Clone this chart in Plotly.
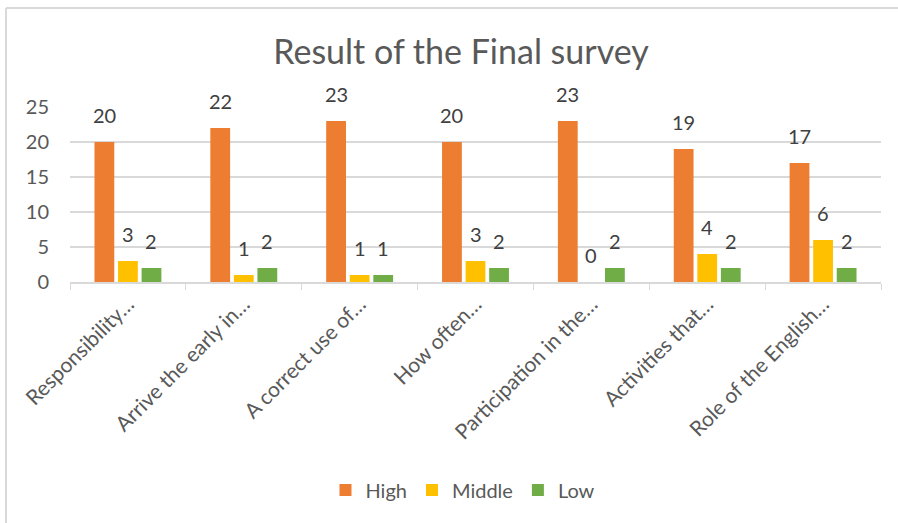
import plotly.graph_objects as go

categories = ["Responsibility…", "Arrive the early in…", "A correct use of…", "How often…",
              "Participation in the…", "Activities that…", "Role of the English…"]
high = [20, 22, 23, 20, 23, 19, 17]
middle = [3, 1, 1, 3, 0, 4, 6]
low = [2, 2, 1, 2, 2, 2, 2]

series = [("High", high, "#ED7D31"), ("Middle", middle, "#FFC000"), ("Low", low, "#70AD47")]

FONT = "Lato"
W, H = 898, 523
L, R, T, B = 70, 881, 107, 282
BARGAP, GROUPGAP = 0.39, 0.16

fig = go.Figure()
for name, vals, col in series:
    fig.add_trace(go.Bar(
        x=categories, y=vals, name=name, marker_color=col, marker_line_width=0,
    ))

band = (R - L) / len(categories)
slot = band * (1 - BARGAP) / len(series)
annotations = []
for i, (name, vals, col) in enumerate(series):
    for cat, v in zip(categories, vals):
        annotations.append(dict(
            x=cat, y=v, xref="x", yref="y", text=str(v), showarrow=False,
            xshift=(i - (len(series) - 1) / 2) * slot, yshift=13, yanchor="bottom",
            font=dict(family=FONT, size=20, color="#404040"),
        ))

def px_x(p):
    return (p - L) / (R - L)

def px_y(p):
    return (B - p) / (B - T)

fig.update_layout(
    width=W, height=H,
    margin=dict(l=L, r=W - R, t=T, b=H - B),
    paper_bgcolor="white", plot_bgcolor="white",
    barmode="group", bargap=BARGAP, bargroupgap=GROUPGAP,
    font=dict(family=FONT, color="#595959"),
    title=dict(text="Result of the Final survey", x=461 / W, xref="container", xanchor="center",
               y=1 - 52 / H, yanchor="middle",
               font=dict(family=FONT, size=34, color="#595959")),
    legend=dict(orientation="h", x=px_x(463), xanchor="center", y=px_y(490), yanchor="middle",
                font=dict(family=FONT, size=20, color="#595959"), itemwidth=30,
                traceorder="normal"),
    showlegend=True,
    xaxis=dict(showline=True, linecolor="#D9D9D9", linewidth=1.5, ticks="outside",
               tickson="boundaries", ticklen=6, tickcolor="#D9D9D9", tickangle=-45,
               tickfont=dict(family=FONT, size=21, color="#595959"), showgrid=False),
    yaxis=dict(range=[0, 25], dtick=5, showgrid=True, gridcolor="#D9D9D9", gridwidth=1.5,
               showline=False, zeroline=False, ticks="", ticklabelstandoff=20,
               tickfont=dict(family=FONT, size=20, color="#595959")),
    annotations=annotations,
    shapes=[
        dict(type="line", xref="paper", yref="paper", x0=px_x(6), x1=px_x(898), y0=px_y(8), y1=px_y(8),
             line=dict(color="#D9D9D9", width=2)),
        dict(type="line", xref="paper", yref="paper", x0=px_x(6), x1=px_x(6), y0=px_y(8), y1=px_y(523),
             line=dict(color="#D9D9D9", width=2)),
    ],
)

fig.write_html("out.html")
